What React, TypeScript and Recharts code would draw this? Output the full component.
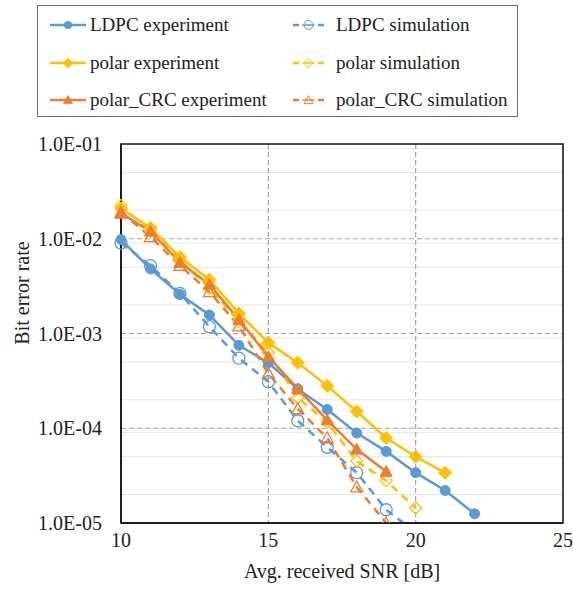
import React from "react";
import {
  LineChart,
  Line,
  XAxis,
  YAxis,
  CartesianGrid,
  ReferenceArea,
} from "recharts";

// SNR points in dB
const SNR = [10, 11, 12, 13, 14, 15, 16, 17, 18, 19, 20, 21, 22];

// bit error rates
const LDPC_EXP = [9.8e-3, 4.8e-3, 2.6e-3, 1.57e-3, 7.5e-4, 4.9e-4, 2.6e-4, 1.58e-4, 8.9e-5, 5.7e-5, 3.4e-5, 2.2e-5, 1.25e-5];
const POLAR_EXP = [2.1e-2, 1.3e-2, 6.4e-3, 3.7e-3, 1.63e-3, 8e-4, 4.9e-4, 2.8e-4, 1.5e-4, 7.9e-5, 5e-5, 3.4e-5];
const CRC_EXP = [1.85e-2, 1.2e-2, 5.6e-3, 3.3e-3, 1.4e-3, 5.7e-4, 2.6e-4, 1.22e-4, 6e-5, 3.5e-5];
const LDPC_SIM = [9e-3, 5.2e-3, 2.65e-3, 1.18e-3, 5.5e-4, 3.1e-4, 1.2e-4, 6.3e-5, 3.4e-5, 1.38e-5, 8e-6];
const POLAR_SIM = [2.25e-2, 1.2e-2, 6e-3, 3e-3, 1.35e-3, 6.3e-4, 2.1e-4, 1.15e-4, 4.5e-5, 2.8e-5, 1.44e-5];
const CRC_SIM = [1.9e-2, 1.05e-2, 5.2e-3, 2.75e-3, 1.2e-3, 3.8e-4, 1.6e-4, 7.9e-5, 2.4e-5, 1.0e-5];

const X_TICKS = [10, 15, 20, 25];
const Y_TICKS = [1e-5, 1e-4, 1e-3, 1e-2, 1e-1];
const Y_MIN = 1e-5;

const BLUE = "#5b9bd5";
const YELLOW = "#ffc000";
const ORANGE = "#ed7d31";
const FONT = "Liberation Serif, serif";

const MINOR_GRID: number[] = [];
for (let e = -5; e <= -2; e++) {
  for (let m = 2; m <= 9; m++) MINOR_GRID.push(m * Math.pow(10, e));
}

const data = SNR.map((snr, i) => ({
  snr,
  ldpcExp: LDPC_EXP[i],
  polarExp: POLAR_EXP[i],
  crcExp: CRC_EXP[i],
  ldpcSim: LDPC_SIM[i],
  polarSim: POLAR_SIM[i],
  crcSim: CRC_SIM[i],
}));

type Shape = "circle" | "diamond" | "triangle";

function Marker({ cx, cy, shape, color, hollow }: { cx: number; cy: number; shape: Shape; color: string; hollow: boolean }) {
  const fill = hollow ? "none" : color;
  const sw = hollow ? 1.3 : 1;
  if (shape === "circle") {
    return <circle cx={cx} cy={cy} r={hollow ? 6 : 5} fill={fill} stroke={color} strokeWidth={sw} />;
  }
  if (shape === "diamond") {
    const d = hollow ? 6 : 6.5;
    return (
      <polygon
        points={`${cx},${cy - d} ${cx + d},${cy} ${cx},${cy + d} ${cx - d},${cy}`}
        fill={fill}
        stroke={color}
        strokeWidth={sw}
      />
    );
  }
  const s = 6;
  return (
    <polygon
      points={`${cx},${cy - s} ${cx + s},${cy + s * 0.8} ${cx - s},${cy + s * 0.8}`}
      fill={fill}
      stroke={color}
      strokeWidth={sw}
    />
  );
}

const SERIES = [
  { key: "ldpcExp", name: "LDPC experiment", color: BLUE, shape: "circle" as Shape, hollow: false },
  { key: "ldpcSim", name: "LDPC simulation", color: BLUE, shape: "circle" as Shape, hollow: true },
  { key: "polarExp", name: "polar experiment", color: YELLOW, shape: "diamond" as Shape, hollow: false },
  { key: "polarSim", name: "polar simulation", color: YELLOW, shape: "diamond" as Shape, hollow: true },
  { key: "crcExp", name: "polar_CRC experiment", color: ORANGE, shape: "triangle" as Shape, hollow: false },
  { key: "crcSim", name: "polar_CRC simulation", color: ORANGE, shape: "triangle" as Shape, hollow: true },
];

const DASH = "8 6";

function LegendBox() {
  return (
    <div
      style={{
        position: "absolute",
        left: 37,
        top: 5,
        width: 479,
        height: 110,
        border: "1px solid #6e6e6e",
        fontFamily: FONT,
        fontSize: 19,
        color: "#222",
      }}
    >
      {SERIES.map((s, i) => {
        const col = i % 2;
        const row = Math.floor(i / 2);
        return (
          <div
            key={s.key}
            style={{
              position: "absolute",
              left: col === 0 ? 12 : 253,
              top: 19 + row * 37.5 - 12,
              height: 24,
              display: "flex",
              alignItems: "center",
              whiteSpace: "nowrap",
            }}
          >
            <svg width={col === 0 ? 38 : 39} height={16} style={{ marginRight: col === 0 ? 2 : 6 }}>
              {s.hollow ? (
                <>
                  <line x1={2} y1={8} x2={8} y2={8} stroke={s.color} strokeWidth={2.5} />
                  <line x1={27} y1={8} x2={33} y2={8} stroke={s.color} strokeWidth={2.5} />
                </>
              ) : (
                <line x1={0} y1={8} x2={36} y2={8} stroke={s.color} strokeWidth={2.5} />
              )}
              <g transform={s.hollow ? "translate(17.5 8) scale(0.75)" : "translate(18 8) scale(0.75)"}>
                <Marker cx={0} cy={0} shape={s.shape} color={s.color} hollow={s.hollow} />
                {s.hollow && <line x1={-8} y1={0} x2={8} y2={0} stroke={s.color} strokeWidth={2} />}
              </g>
            </svg>
            <span>{s.name}</span>
          </div>
        );
      })}
    </div>
  );
}

const formatY = (v: number) => {
  const e = Math.round(Math.log10(v));
  return `1.0E-0${-e}`;
};

export default function App() {
  return (
    <div
      style={{
        position: "absolute",
        left: 0,
        top: 0,
        width: 573,
        height: 590,
        background: "#fff",
        fontFamily: FONT,
      }}
    >
      <LegendBox />
      <LineChart
        width={573}
        height={590}
        data={data}
        margin={{ top: 144, right: 10, bottom: 7, left: 0 }}
        style={{ fontFamily: FONT }}
      >
        <CartesianGrid horizontalValues={MINOR_GRID} vertical={false} stroke="#e6e6e6" strokeWidth={1} />
        <CartesianGrid
          horizontalValues={[1e-4, 1e-3, 1e-2]}
          verticalValues={[15, 20]}
          stroke="#a3a3a3"
          strokeDasharray="5 3"
          strokeWidth={1.2}
        />
        <XAxis
          dataKey="snr"
          type="number"
          domain={[10, 25]}
          ticks={X_TICKS}
          height={60}
          tickLine={false}
          tickSize={0}
          tickMargin={10}
          axisLine={{ stroke: "#111", strokeWidth: 1.5 }}
          tick={{ fontSize: 20, fill: "#222", fontFamily: FONT }}
          label={{
            content: () => (
              <text x={342} y={578} textAnchor="middle" fontSize={20} fill="#222" fontFamily={FONT}>
                Avg. received SNR [dB]
              </text>
            ),
          }}
        />
        <YAxis
          type="number"
          scale="log"
          domain={[Y_MIN, 1e-1]}
          allowDataOverflow
          ticks={Y_TICKS}
          tickFormatter={formatY}
          width={121}
          tickLine={false}
          tickSize={0}
          tickMargin={19}
          axisLine={{ stroke: "#111", strokeWidth: 1.5 }}
          tick={{ fontSize: 20, fill: "#222", fontFamily: FONT }}
          label={{
            content: () => (
              <text
                x={22}
                y={293}
                transform="rotate(-90 22 293)"
                textAnchor="middle"
                dominantBaseline="central"
                fontSize={20}
                fill="#222"
                fontFamily={FONT}
              >
                Bit error rate
              </text>
            ),
          }}
        />
        <ReferenceArea x1={10} x2={25} y1={Y_MIN} y2={1e-1} fill="none" stroke="#111" strokeWidth={1.5} />
        {SERIES.map((s) => (
          <Line
            key={s.key}
            dataKey={s.key}
            name={s.name}
            type="linear"
            stroke={s.color}
            strokeWidth={2.5}
            strokeDasharray={s.hollow ? DASH : undefined}
            isAnimationActive={false}
            connectNulls={false}
            dot={(p: any) =>
              p.value == null || p.value < Y_MIN ? (
                <g key={p.index} />
              ) : (
                <Marker key={p.index} cx={p.cx} cy={p.cy} shape={s.shape} color={s.color} hollow={s.hollow} />
              )
            }
            activeDot={false}
          />
        ))}
      </LineChart>
    </div>
  );
}
